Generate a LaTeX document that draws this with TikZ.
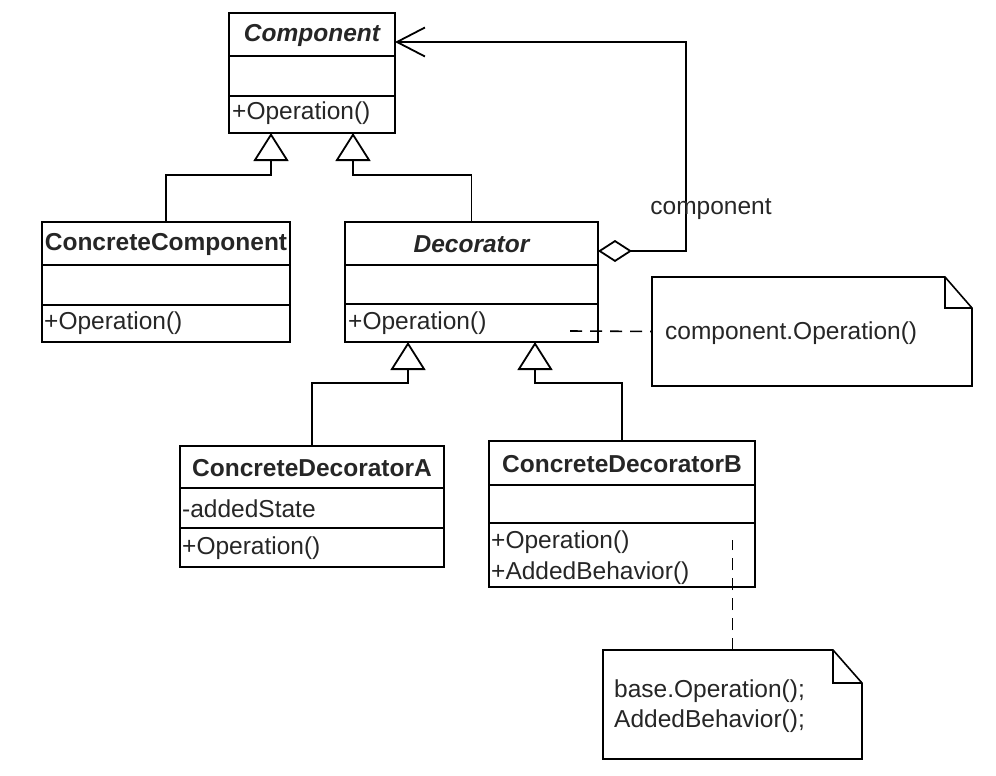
\documentclass[tikz,border=0pt]{standalone}
\usepackage{fontspec}
\setmainfont{Liberation Sans}
\usetikzlibrary{arrows.meta,calc}
\begin{document}
\begin{tikzpicture}[x=1pt,y=-1pt,
  every node/.style={font=\fontsize{24.5}{29}\selectfont, text=black!85},
  ln/.style={line width=1.6pt},
  cls/.style={draw, line width=1.6pt, rectangle, anchor=north west, inner sep=0pt, outer sep=0pt},
  notebox/.style={rectangle, anchor=north west, inner sep=0pt, outer sep=0pt},
  title/.style={font=\fontsize{24.5}{29}\selectfont\bfseries, inner sep=0pt},
  ititle/.style={font=\fontsize{24.5}{29}\selectfont\bfseries\itshape, inner sep=0pt},
  member/.style={anchor=west, inner sep=0pt},
  inh/.style={line width=1.8pt, -{Triangle[open, length=28pt, width=35pt]}},
  notelink/.style={line width=1.6pt, dash pattern=on 12pt off 8pt}
]
\useasboundingbox (0,0) rectangle (996,776);

% Component
\node[cls, minimum width=166pt, minimum height=120pt] (comp) at (229,13) {};
\draw[ln] ($(comp.north west)+(0,43)$) -- ($(comp.north east)+(0,43)$);
\draw[ln] ($(comp.north west)+(0,83)$) -- ($(comp.north east)+(0,83)$);
\node[ititle] (compT) at (312,35) {Component};
\node[member] (compM) at (232,113) {+Operation()};

% ConcreteComponent
\node[cls, minimum width=248pt, minimum height=120pt] (cc) at (42,222) {};
\draw[ln] ($(cc.north west)+(0,43)$) -- ($(cc.north east)+(0,43)$);
\draw[ln] ($(cc.north west)+(0,83)$) -- ($(cc.north east)+(0,83)$);
\node[title] (ccT) at (166,244) {ConcreteComponent};
\node[member] (ccM) at (44,323) {+Operation()};

% Decorator
\node[cls, minimum width=253pt, minimum height=120pt] (dec) at (345,222) {};
\draw[ln] ($(dec.north west)+(0,43)$) -- ($(dec.north east)+(0,43)$);
\draw[ln] ($(dec.north west)+(0,82)$) -- ($(dec.north east)+(0,82)$);
\node[ititle] (decT) at (471.5,244) {Decorator};
\node[member] (decM) at (348,323) {+Operation()};

% ConcreteDecoratorA
\node[cls, minimum width=264pt, minimum height=121pt] (cda) at (180,446) {};
\draw[ln] ($(cda.north west)+(0,42)$) -- ($(cda.north east)+(0,42)$);
\draw[ln] ($(cda.north west)+(0,82)$) -- ($(cda.north east)+(0,82)$);
\node[title] (cdaT) at (312,468) {ConcreteDecoratorA};
\node[member] (cdaA) at (182,509) {-addedState};
\node[member] (cdaM) at (182,548) {+Operation()};

% ConcreteDecoratorB
\node[cls, minimum width=266pt, minimum height=146pt] (cdb) at (489,441) {};
\draw[ln] ($(cdb.north west)+(0,44)$) -- ($(cdb.north east)+(0,44)$);
\draw[ln] ($(cdb.north west)+(0,82)$) -- ($(cdb.north east)+(0,82)$);
\node[title] (cdbT) at (622,464) {ConcreteDecoratorB};
\node[member] (cdbM1) at (491,542) {+Operation()};
\node[member] (cdbM2) at (491,573) {+AddedBehavior()};

% Inheritance
\draw[inh] (cc.north) -- ++(0,-47) -| ($(comp.south west)+(42,0)$);
\draw[inh] (dec.north) -- ++(0,-47) -| ($(comp.south west)+(124,0)$);
\draw[inh] (cda.north) -- ++(0,-63) -| ($(dec.south west)+(63,0)$);
\draw[inh] (cdb.north) -- ++(0,-58) -| ($(dec.south west)+(190,0)$);

% Aggregation
\draw[line width=1.8pt, {Diamond[open, length=34pt, width=22pt]}-{Straight Barb[length=28pt, width=29pt]}]
  ($(dec.north east)+(0,29)$) -- ++(88,0) |- ($(comp.north east)+(0,29)$);
\node[inner sep=0pt] (lbl) at (711,209) {component};

% Note 1
\node[notebox, minimum width=320pt, minimum height=109pt] (n1) at (652,277) {};
\draw[ln, fill=white] (n1.north west) -- ++(293,0) -- ++(27,31) |- (n1.south west) -- cycle;
\draw[ln] ($(n1.north west)+(293,0)$) -- ++(0,31) -- ++(27,0);
\node[member] (n1t) at (665,333) {component.Operation()};
\coordinate (d1) at (570,331);
\draw[notelink] (d1) -- (n1.west);

% Note 2
\node[notebox, minimum width=259pt, minimum height=109pt] (n2) at (603,650) {};
\draw[ln, fill=white] (n2.north west) -- ++(230,0) -- ++(29,33) |- (n2.south west) -- cycle;
\draw[ln] ($(n2.north west)+(230,0)$) -- ++(0,33) -- ++(29,0);
\node[member] (n2t1) at (614,691) {base.Operation();};
\node[member] (n2t2) at (614,721) {AddedBehavior();};
\coordinate (d2) at (732.5,540);
\draw[notelink] (n2.north) -- (d2);
\end{tikzpicture}
\end{document}
